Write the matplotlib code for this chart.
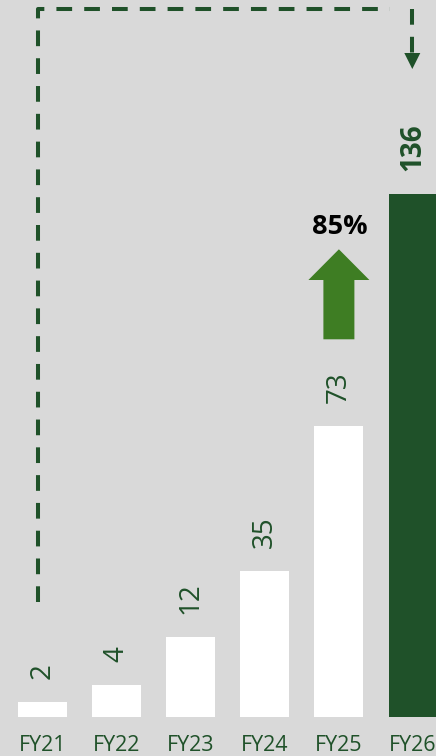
import matplotlib
matplotlib.use("Agg")
import matplotlib.pyplot as plt

# ---- data ----
categories = ["FY21", "FY22", "FY23", "FY24", "FY25", "FY26"]
bar_heights = [3.8, 8.2, 20.8, 37.9, 75.6, 136]   # drawn heights
value_labels = ["2", "4", "12", "35", "73", "136"]
growth_label = "85%"

BG = "#D9D9D9"
DARK = "#1F5129"
ARROW = "#3E7D23"

plt.rcParams['font.family'] = ['Open Sans', 'DejaVu Sans']

fig = plt.figure(figsize=(4.36, 7.56), dpi=100, facecolor=BG)
ax = fig.add_axes([0, 0, 1, 1], facecolor=BG)

px_x = 74.1      # pixels per category
px_y = 3.843     # pixels per unit
x0_px = 42.5
y0_px = 39.3
ax.set_xlim(-x0_px / px_x, (436 - x0_px) / px_x)
ax.set_ylim(-y0_px / px_y, (756 - y0_px) / px_y)
for s in ax.spines.values():
    s.set_visible(False)
ax.set_xticks([])
ax.set_yticks([])

xs = list(range(len(categories)))
colors = ["white"] * (len(categories) - 1) + [DARK]
ax.bar(xs, bar_heights, width=49 / px_x, color=colors, linewidth=0, zorder=2)

# value labels
for i, (h, lab) in enumerate(zip(bar_heights, value_labels)):
    bold = (i == len(categories) - 1)
    ax.annotate(lab, (i, h), xytext=(0, 16.5), textcoords="offset points",
                rotation=90, ha="center", va="bottom", color=DARK,
                fontsize=20, fontweight="bold" if bold else "normal", zorder=3)

# category labels
for i, c in enumerate(categories):
    ax.annotate(c, (i, 0), xytext=(0, -13), textcoords="offset points",
                ha="center", va="top", color=DARK, fontsize=15.5, zorder=3)

# dashed connector
lw = 2.9
dash = (3.9, 3.0)
y_top = (756 - 9.3 - y0_px) / px_y
y_bot = (756 - 601.7 - y0_px) / px_y
x_left = (37.7 - x0_px) / px_x
x_right_end = (390 - x0_px) / px_x
ax.plot([x_left, x_left, x_right_end], [y_bot, y_top, y_top], color=DARK, lw=lw,
        linestyle=(0, dash), solid_capstyle="butt", dash_capstyle="butt", zorder=1)
x_arrow = (412.3 - x0_px) / px_x
y_head_base = (756 - 53 - y0_px) / px_y
y_tip = (756 - 69 - y0_px) / px_y
ax.plot([x_arrow, x_arrow], [y_top, y_head_base], color=DARK, lw=lw,
        linestyle=(0, dash), dash_capstyle="butt", zorder=1)
ax.fill([x_arrow - 8 / px_x, x_arrow + 8 / px_x, x_arrow],
        [y_head_base, y_head_base, y_tip], color=DARK, lw=0, zorder=1)

# growth arrow
xc = 4
shaft_bottom = (756 - 339.3 - y0_px) / px_y
tip = (756 - 249.3 - y0_px) / px_y
head_base = (756 - 280 - y0_px) / px_y
sw = 31 / px_x / 2
hw = 61 / px_x / 2
ax.fill([xc - sw, xc + sw, xc + sw, xc + hw, xc, xc - hw, xc - sw],
        [shaft_bottom, shaft_bottom, head_base, head_base, tip, head_base, head_base],
        color=ARROW, lw=0, zorder=2)
ax.annotate(growth_label, (xc, tip), xytext=(1, 7), textcoords="offset points",
            ha="center", va="bottom", fontsize=19.5, fontweight="bold",
            color="black", zorder=3)

fig.savefig("out.png", dpi=100, facecolor=BG)
